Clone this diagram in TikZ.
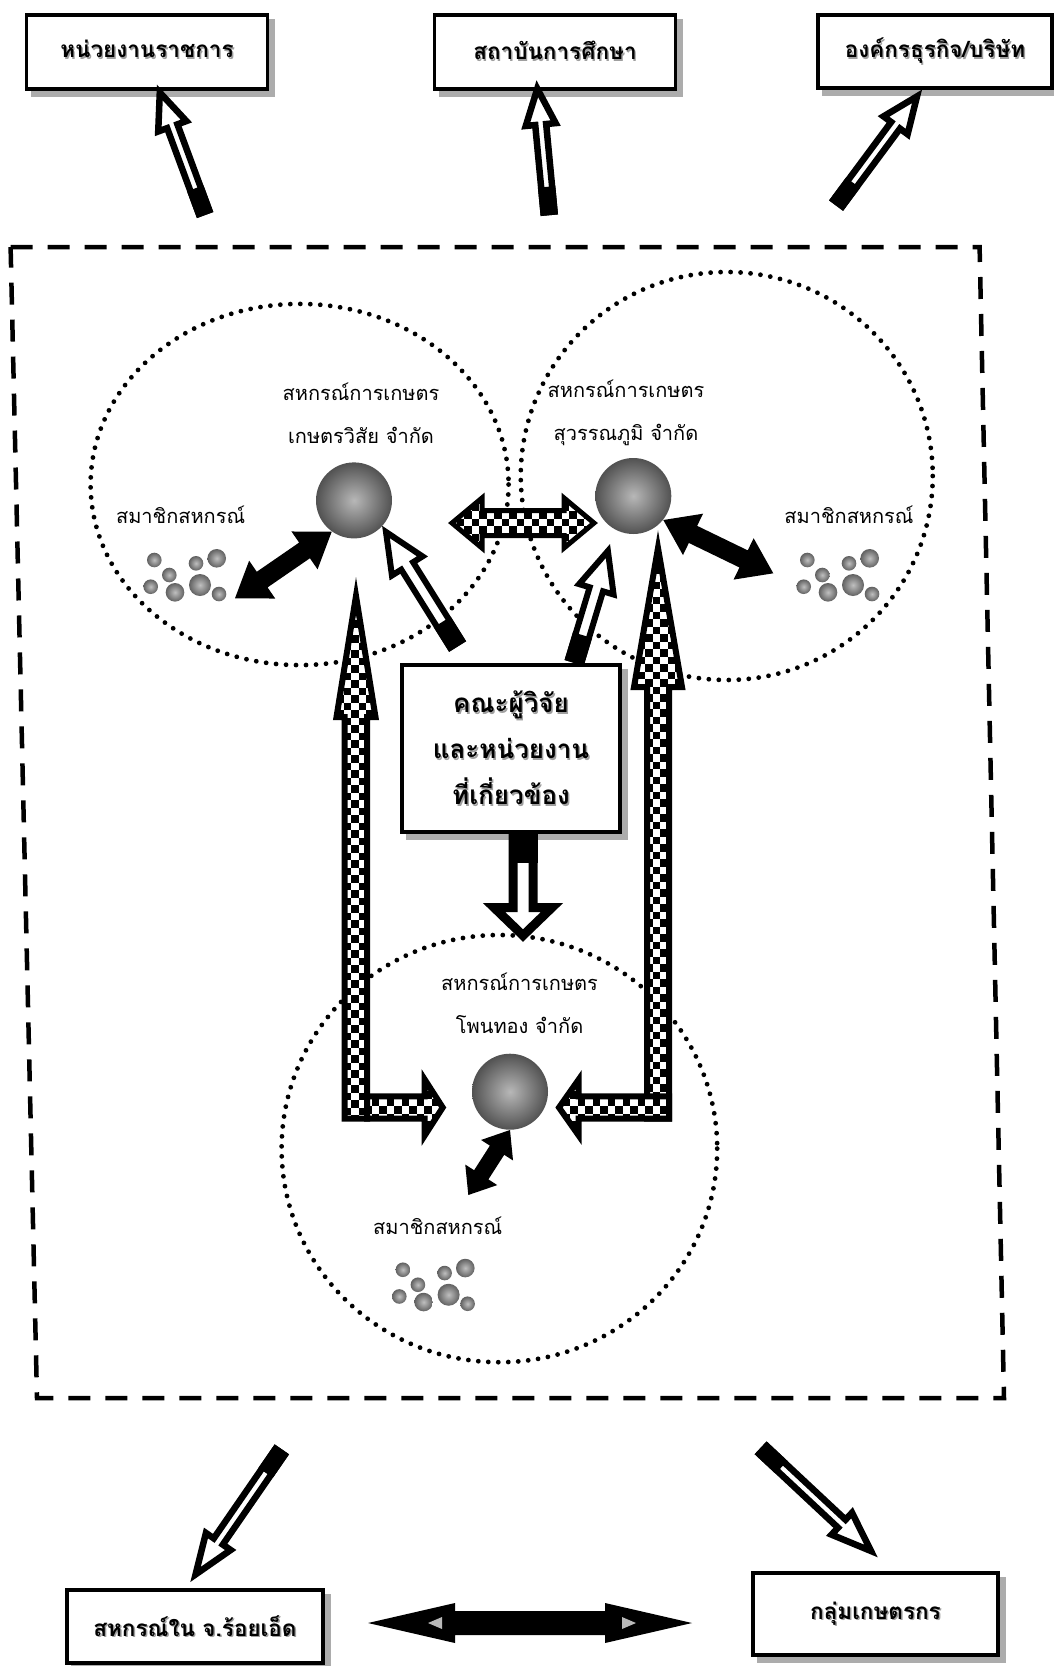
\documentclass[tikz,border=0pt]{standalone}
\usepackage{fontspec}
\newfontfamily\thaifont[Script=Thai]{Loma}
\usetikzlibrary{calc}

% text with a grey shadow
\newcommand{\shtxt}[1]{\leavevmode\rlap{\kern1.4pt\raisebox{-1.4pt}{\textcolor{gray!75}{#1}}}#1}

% checkerboard rows: x0, y0, x1, y1
\newcommand{\checkers}[4]{%
  \fill[white] (#1,#2) rectangle (#3,#4);
  \pgfmathtruncatemacro\nrows{(#4-#2)/7.5}
  \foreach \k [evaluate=\k as \ph using {mod(\k,2)*7.5}] in {0,...,\nrows}
    \draw[line width=7.5pt, dash pattern=on 7.5pt off 7.5pt, dash phase=\ph pt] (#1,#2+7.5*\k+3.75) -- (#3,#2+7.5*\k+3.75);
}

% hollow arrow: from, to, shaft, head, head length, black tail, line width
\newcommand{\hollowarrow}[7]{%
  \draw[line width=#7, fill=white, line join=miter]
    ($(#1)!#3!90:(#2)$) -- ($(#2)!#5!(#1)!#3!-90:(#1)$) -- ($(#2)!#5!(#1)!#4!-90:(#1)$) -- (#2)
    -- ($(#2)!#5!(#1)!#4!90:(#1)$) -- ($(#2)!#5!(#1)!#3!90:(#1)$) -- ($(#1)!#3!-90:(#2)$) -- cycle;
  \draw[line width=#7, fill=black, line join=miter]
    ($(#1)!#3!90:(#2)$) -- ($(#1)!#6!(#2)!#3!90:(#2)$) -- ($(#1)!#6!(#2)!#3!-90:(#2)$) -- ($(#1)!#3!-90:(#2)$) -- cycle;
}
% black arrow with two heads: from, to, shaft, head, head length
\newcommand{\blackboth}[5]{%
  \fill (#1) -- ($(#1)!#5!(#2)!#4!90:(#2)$) -- ($(#1)!#5!(#2)!#3!90:(#2)$) -- ($(#2)!#5!(#1)!#3!-90:(#1)$)
    -- ($(#2)!#5!(#1)!#4!-90:(#1)$) -- (#2) -- ($(#2)!#5!(#1)!#4!90:(#1)$) -- ($(#2)!#5!(#1)!#3!90:(#1)$)
    -- ($(#1)!#5!(#2)!#3!-90:(#2)$) -- ($(#1)!#5!(#2)!#4!-90:(#2)$) -- cycle;
}

\tikzset{
  boxnode/.style={draw, line width=3.5pt, fill=white, inner sep=0pt,
    font=\thaifont\bfseries\fontsize{22.5}{27}\selectfont,
    preaction={fill=gray!65, draw=gray!65, line width=3.5pt, transform canvas={xshift=6pt,yshift=-6pt}}},
  coopname/.style={font=\thaifont\fontsize{20}{43}\selectfont, align=center, inner sep=0pt},
  memtext/.style={font=\thaifont\fontsize{20}{24}\selectfont, inner sep=0pt},
  ball/.style={circle, minimum size=76pt, inner sep=0pt, inner color=black!28, outer color=black!68},
  dotring/.style={line width=4.8pt, dash pattern=on 0pt off 10pt, line cap=round},
  frame/.style={line width=4.5pt, dash pattern=on 22pt off 15pt},
  checkline/.style={line width=6pt, line join=miter},
}

\def\pathleftup{(344.7,1118.7) -- (344.7,717) -- (336.5,717) -- (356,596) -- (375.5,717) -- (367,717) -- (367,1118.7) -- cycle}
\def\pathleftin{(367,1096.3) -- (424.7,1096.3) -- (424.7,1079.5) -- (442.7,1107.5) -- (424.7,1135.5) -- (424.7,1118.7) -- (367,1118.7) -- cycle}
\def\pathrightup{(647,1118.7) -- (647,687) -- (634,687) -- (658,548) -- (682,687) -- (669,687) -- (669,1118.7) -- cycle}
\def\pathrightin{(669,1096.3) -- (578.7,1096.3) -- (578.7,1079.5) -- (559,1107.5) -- (578.7,1135.5) -- (578.7,1118.7) -- (669,1118.7) -- cycle}
\def\pathlink{(452,523) -- (482,498) -- (482,510.5) -- (564,510.5) -- (564,498) -- (594,523) -- (564,548) -- (564,535.5) -- (482,535.5) -- (482,548) -- cycle}

\begin{document}
\begin{tikzpicture}[x=1pt,y=1pt,yscale=-1,xscale=1]
\path[fill=white, use as bounding box] (0,0) rectangle (1054,1666);

%Dotted rings
\draw[dotring] (299.6,484.5) ellipse [x radius=209, y radius=180.6];
\draw[dotring] (726.75,476) ellipse [x radius=206, y radius=204];
\draw[dotring] (499.4,1148.6) ellipse [x radius=217.8, y radius=213.6];

%Dashed frame
\draw[frame] (10.6,247) -- (979.6,247) -- (1004,1398) -- (37,1398) -- cycle;

%Boxes
\node[boxnode, minimum width=241pt, minimum height=74pt] (gov) at (147,52) {\raisebox{6pt}{\shtxt{หน่วยงานราชการ}}};
\node[boxnode, minimum width=241pt, minimum height=74pt] (inst) at (555,52) {\raisebox{3pt}{\shtxt{สถาบันการศึกษา}}};
\node[boxnode, minimum width=234pt, minimum height=73pt] (biz) at (935,51.5) {\shtxt{องค์กรธุรกิจ/บริษัท}};
\node[boxnode, minimum width=256pt, minimum height=73pt] (roiet) at (195,1626.5) {\shtxt{สหกรณ์ใน จ.ร้อยเอ็ด}};
\node[boxnode, minimum width=245pt, minimum height=82pt] (farm) at (875.5,1614) {\shtxt{กลุ่มเกษตรกร}};
\node[boxnode, line width=4pt, align=center, minimum width=218pt, minimum height=167pt,
  font=\thaifont\bfseries\fontsize{26}{46}\selectfont] (team) at (511,748.5)
  {\shtxt{คณะผู้วิจัย}\\\shtxt{และหน่วยงาน}\\\shtxt{ที่เกี่ยวข้อง}};

%Spheres
\node[ball] (kaset) at (354,500.4) {};
\node[ball] (suwan) at (633.3,496) {};
\node[ball] (phon) at (510,1091.7) {};

%Members
\foreach \cx/\cy in {185/577, 838/577, 433.6/1286.75}{
  \begin{scope}[shift={(\cx,\cy)}]
    \foreach \dx/\dy/\r in {-30.7/-17/7.3, -15.7/-2/7.3, -34.3/9.7/7.3, -10/15.3/9.3,
                            11/-13.7/7.3, 31.7/-18.7/9.3, 15/8/11, 34/17/7.3}
      \shade[inner color=black!25, outer color=black!62] (\dx,\dy) circle (\r);
  \end{scope}
}

% Text Node
\node[coopname] (kasettxt) at (361,413) {สหกรณ์การเกษตร\\เกษตรวิสัย จำกัด};
% Text Node
\node[coopname] (suwantxt) at (626,413) {สหกรณ์การเกษตร\\สุวรรณภูมิ จำกัด};
% Text Node
\node[coopname] (phontxt) at (519.6,1003.5) {สหกรณ์การเกษตร\\โพนทอง จำกัด};
% Text Node
\node[memtext] (kasetmem) at (180.6,515) {สมาชิกสหกรณ์};
\node[memtext] (suwanmem) at (849,515) {สมาชิกสหกรณ์};
\node[memtext] (phonmem) at (437.75,1226) {สมาชิกสหกรณ์};

%Checkered arrows
\begin{scope} \clip \pathleftup; \checkers{336}{590}{376}{1122} \end{scope}
\draw[checkline] \pathleftup;
\begin{scope} \clip \pathleftin; \checkers{364}{1076}{446}{1139} \end{scope}
\draw[checkline] \pathleftin;
\begin{scope} \clip \pathrightup; \checkers{630}{544}{686}{1122} \end{scope}
\draw[checkline] \pathrightup;
\begin{scope} \clip \pathrightin; \checkers{555}{1076}{672}{1139} \end{scope}
\draw[checkline] \pathrightin;
\begin{scope} \clip \pathlink; \checkers{449}{496}{597}{550} \end{scope}
\draw[checkline, line width=5pt] \pathlink;

%Hollow arrows
\coordinate (govtail) at (204,212);   \coordinate (govtip) at (159.8,92.5);
\coordinate (insttail) at (549,212);  \coordinate (insttip) at (537.3,88.7);
\coordinate (biztail) at (838,203);   \coordinate (biztip) at (917,96.4);
\coordinate (roiettail) at (280,1452); \coordinate (roiettip) at (195.6,1574.4);
\coordinate (farmtail) at (763,1450); \coordinate (farmtip) at (871,1551);
\hollowarrow{govtail}{govtip}{5.5pt}{15pt}{36pt}{22pt}{6.5pt}
\hollowarrow{insttail}{insttip}{5.5pt}{15pt}{36pt}{22pt}{6.5pt}
\hollowarrow{biztail}{biztip}{5.5pt}{15pt}{36pt}{22pt}{6.5pt}
\hollowarrow{roiettail}{roiettip}{5.5pt}{15pt}{40pt}{22pt}{6.5pt}
\hollowarrow{farmtail}{farmtip}{5.5pt}{15pt}{40pt}{22pt}{6.5pt}

\coordinate (teamkl) at (456,644);  \coordinate (kasetin) at (386,532);
\coordinate (teamsr) at (575,660);  \coordinate (suwanin) at (607.9,551);
\coordinate (teamdn) at (523,836);  \coordinate (phonin) at (523,935.5);
\hollowarrow{teamkl}{kasetin}{7pt}{18pt}{40pt}{23pt}{6pt}
\hollowarrow{teamsr}{suwanin}{7pt}{18pt}{40pt}{23pt}{6pt}
\hollowarrow{teamdn}{phonin}{10pt}{29pt}{28pt}{22pt}{9pt}

%Black arrows
\coordinate (kasetout) at (331.7,531.7); \coordinate (kasetmemarr) at (235,598.3);
\coordinate (suwanout) at (663.3,520);   \coordinate (suwanmemarr) at (773.3,573.3);
\coordinate (phonout) at (510,1130);     \coordinate (phonmemarr) at (468.3,1195);
\blackboth{kasetout}{kasetmemarr}{9.5pt}{23pt}{33pt}
\blackboth{suwanout}{suwanmemarr}{9.5pt}{23pt}{33pt}
\blackboth{phonout}{phonmemarr}{8.5pt}{19pt}{24pt}

\coordinate (roietarr) at (368,1623); \coordinate (farmarr) at (692,1623);
\fill (roietarr) -- ++(87,-20) -- ++(0,8) -- ++(150,0) -- ++(0,-8) -- (farmarr) -- ++(-87,20) -- ++(0,-8) -- ++(-150,0) -- ++(0,8) -- cycle;
\fill[gray!55] ($(roietarr)+(60,0)$) -- ++(14,-6) -- ++(0,12) -- cycle;
\fill[gray!55] ($(farmarr)+(-56,0)$) -- ++(-14,-6) -- ++(0,12) -- cycle;

\end{tikzpicture}
\end{document}
